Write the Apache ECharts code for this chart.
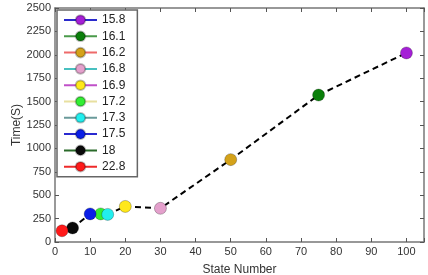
<!DOCTYPE html>
<html>
<head>
<meta charset="utf-8">
<script src="https://cdn.jsdelivr.net/npm/echarts@6/dist/echarts.min.js"></script>
<style>
  html, body { margin: 0; padding: 0; background: #fff; }
  #main { width: 428px; height: 275px; }
</style>
</head>
<body>
<div id="main"></div>
<script>
// values
var names = ['15.8', '16.1', '16.2', '16.8', '16.9', '17.2', '17.3', '17.5', '18', '22.8'];
var stateNum = [100, 75, 50, 30, 20, 13, 15, 10, 5, 2];
var timeSec = [2020, 1570, 880, 360, 380, 300, 295, 300, 150, 120];
var markerColors = ['#a51fd6', '#0a7f0a', '#d4a21a', '#e4a0cc', '#ffe81a', '#33ee33', '#22eeee', '#0a1ee6', '#0a0a0a', '#ff1a1a'];
var lineColors = ['#2a2acc', '#4a9a4a', '#ee6a6a', '#48c0c0', '#c050c8', '#e8e0a0', '#6a9a9a', '#2a2ad0', '#2a6a2a', '#ee2a2a'];
var xTicks = [0, 10, 20, 30, 40, 50, 60, 70, 80, 90, 100];
var yTicks = [0, 250, 500, 750, 1000, 1250, 1500, 1750, 2000, 2250, 2500];

var myChart = echarts.init(document.getElementById('main'));

// dashed path goes through the points sorted by state number
var pathData = stateNum.map(function (x, i) { return [x, timeSec[i]]; })
    .sort(function (a, b) { return a[0] - b[0]; });

var series = [{
    name: 'path',
    type: 'line',
    data: pathData,
    symbol: 'none',
    lineStyle: { color: '#000', width: 2, type: [6, 4] },
    z: 1
}];

for (var i = 0; i < names.length; i++) {
    series.push({
        name: names[i],
        type: 'line',
        data: [[stateNum[i], timeSec[i]]],
        symbol: 'circle',
        symbolSize: 12,
        itemStyle: { color: markerColors[i], borderColor: 'rgba(0,0,0,0.25)', borderWidth: 1 },
        lineStyle: { color: lineColors[i], width: 1.5 },
        z: 3
    });
}

var nameFont = { color: '#333', fontSize: 12, fontFamily: 'Liberation Sans' };
var frameLine = { show: true, onZero: false, lineStyle: { color: '#777', width: 1.5 } };
var inTicks = { inside: true, length: 4, lineStyle: { color: '#555' } };

var option = {
    animation: false,
    grid: { left: 55, right: 4, top: 8, bottom: 33, outerBoundsMode: 'none' },
    legend: {
        data: names,
        orient: 'vertical',
        left: 57,
        top: 10,
        itemWidth: 33,
        itemHeight: 12,
        itemGap: 4.3,
        padding: [4, 12, 4, 6],
        backgroundColor: '#fff',
        borderColor: '#666',
        borderWidth: 1.5,
        textStyle: { color: '#222', fontSize: 12, fontFamily: 'Liberation Sans' }
    },
    xAxis: [{
        type: 'value',
        min: 0,
        max: 105,
        interval: 10,
        name: 'State Number',
        nameLocation: 'middle',
        nameGap: 22,
        nameMoveOverlap: false,
        nameTextStyle: nameFont,
        axisLine: frameLine,
        axisTick: inTicks,
        axisLabel: {
            color: '#333', fontSize: 11, fontFamily: 'Liberation Sans', margin: 4,
            formatter: function (v) { return xTicks.indexOf(v) >= 0 ? v : ''; }
        },
        splitLine: { show: false }
    }, {
        type: 'value',
        position: 'top',
        min: 0,
        max: 105,
        interval: 10,
        axisLine: frameLine,
        axisTick: inTicks,
        axisLabel: { show: false },
        splitLine: { show: false }
    }],
    yAxis: [{
        type: 'value',
        min: 0,
        max: 2500,
        interval: 250,
        name: 'Time(S)',
        nameLocation: 'middle',
        nameGap: 32,
        nameMoveOverlap: false,
        nameTextStyle: nameFont,
        axisLine: frameLine,
        axisTick: inTicks,
        axisLabel: {
            color: '#333', fontSize: 11, fontFamily: 'Liberation Sans', margin: 4,
            formatter: function (v) { return yTicks.indexOf(v) >= 0 ? v : ''; }
        },
        splitLine: { show: false }
    }, {
        type: 'value',
        position: 'right',
        min: 0,
        max: 2500,
        interval: 250,
        axisLine: frameLine,
        axisTick: inTicks,
        axisLabel: { show: false },
        splitLine: { show: false }
    }],
    series: series
};

myChart.setOption(option);
</script>
</body>
</html>
